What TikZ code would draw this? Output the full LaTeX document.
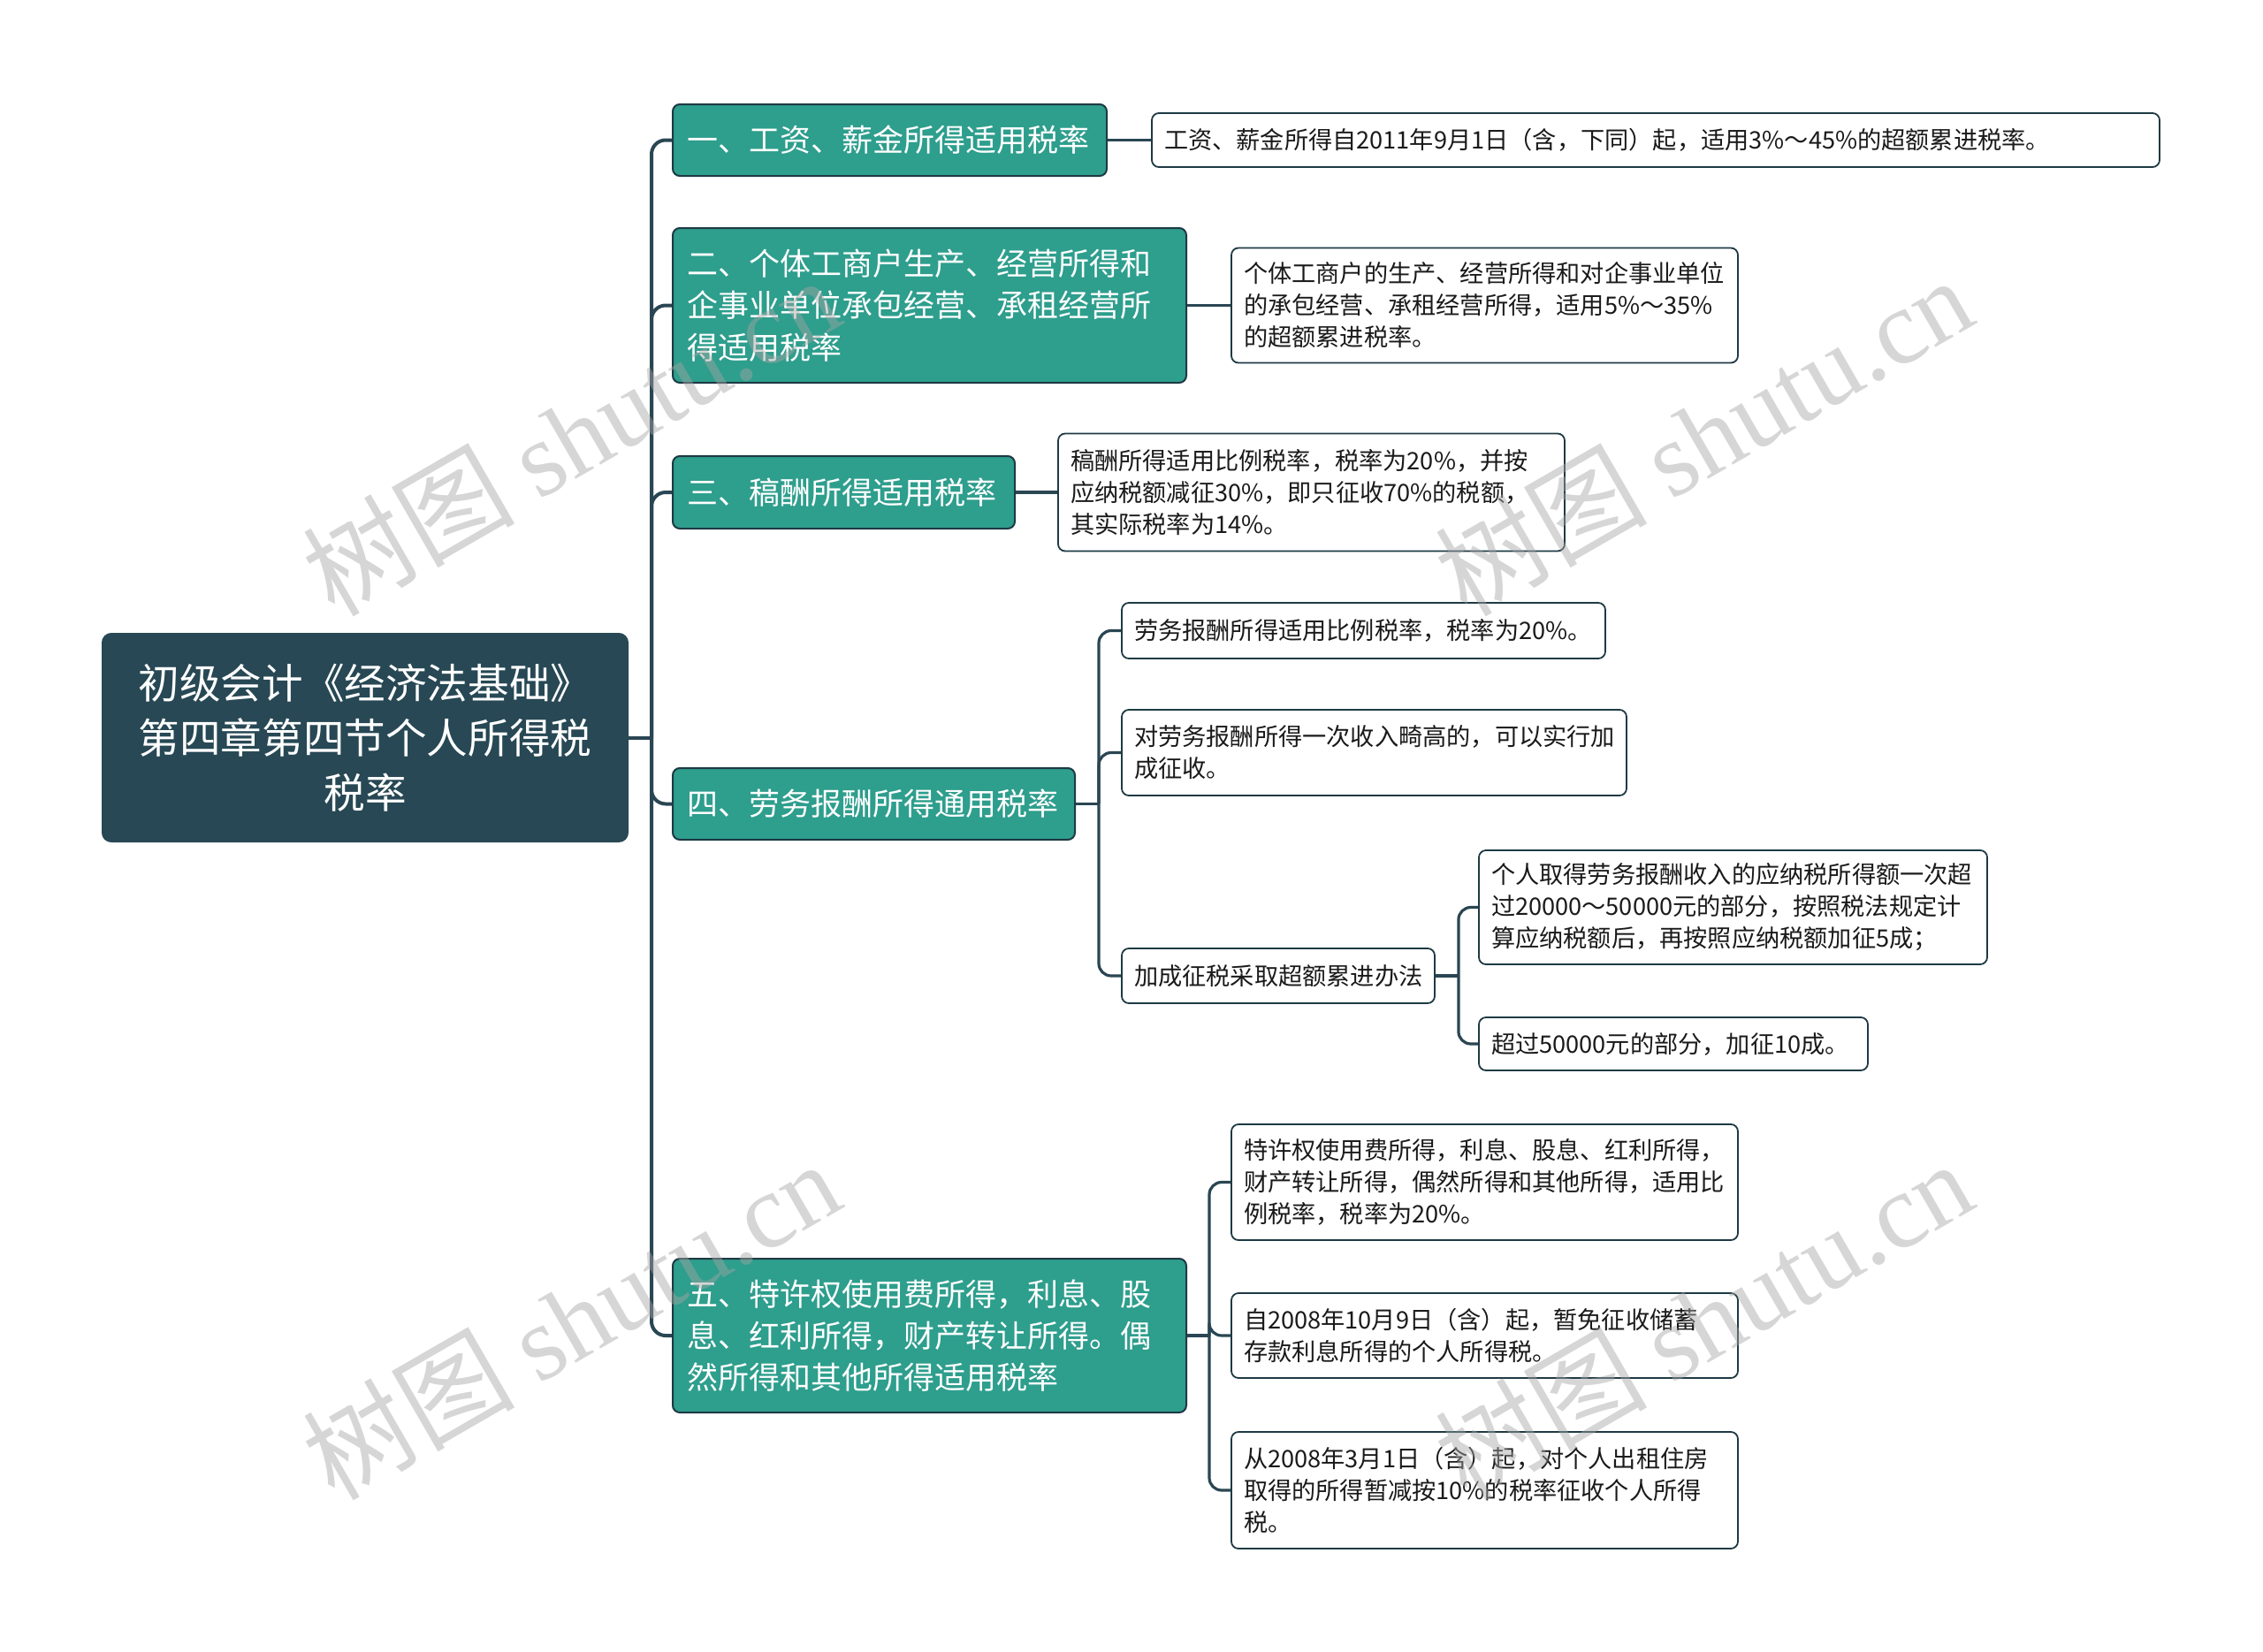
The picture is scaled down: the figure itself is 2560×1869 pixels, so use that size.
\documentclass[tikz,border=0pt]{standalone}
\usepackage{fontspec}
\setmainfont{Noto Sans CJK SC}
\newfontfamily\wmlatin{Liberation Serif}
\definecolor{rootc}{HTML}{274854}
\definecolor{tealc}{HTML}{2E9E8D}
\definecolor{bordc}{HTML}{1E3A44}
\definecolor{linec}{HTML}{2A4653}
\definecolor{txtc}{HTML}{1A1A1A}
\definecolor{wmc}{HTML}{A5A5A5}
\tikzset{
  x=0.5pt, y=-0.5pt,
  rootbox/.style={draw=rootc, fill=rootc, rounded corners=5pt, text=white, line width=1pt,
    font=\fontsize{23.3pt}{31pt}\selectfont, align=center, inner xsep=8.5pt, text width=280pt,
    minimum height=117.5pt},
  lvlone/.style={draw=bordc, fill=tealc, rounded corners=4pt, text=white, line width=1pt,
    font=\fontsize{17.5pt}{23.7pt}\selectfont, align=left, inner xsep=8pt},
  lvltwo/.style={draw=bordc, fill=white, rounded corners=4pt, text=txtc, line width=0.9pt,
    font=\fontsize{13.6pt}{18pt}\selectfont, align=left, inner xsep=7pt},
  connone/.style={draw=linec, line width=2pt, rounded corners=8pt},
  conntwo/.style={draw=linec, line width=1.6pt, rounded corners=7pt},
  wmark/.style={text=wmc, opacity=0.45, font=\fontsize{60pt}{60pt}\selectfont, inner sep=0pt}
}
\begin{document}
\begin{tikzpicture}
\fill[white] (0,0) rectangle (2560,1869);
\useasboundingbox (0,0) rectangle (2560,1869);

% root
\node[rootbox] (root) at (413,834.5) {初级会计《经济法基础》\\第四章第四节个人所得税\\税率};

% level 1
\node[lvlone, text width=229.5pt, minimum height=40.5pt] (n1) at (1006.5,158.5) {一、工资、薪金所得适用税率};
\node[lvlone, text width=274.5pt, minimum height=87.5pt] (n2) at (1051.5,345.5) {二、个体工商户生产、经营所得和\\企事业单位承包经营、承租经营所\\得适用税率};
\node[lvlone, text width=177.5pt, minimum height=41pt] (n3) at (954.5,557) {三、稿酬所得适用税率};
\node[lvlone, text width=211.5pt, minimum height=40.5pt] (n4) at (988.5,909.5) {四、劳务报酬所得通用税率};
\node[lvlone, text width=274.5pt, minimum height=87pt] (n5) at (1051.5,1511) {五、特许权使用费所得，利息、股\\息、红利所得，财产转让所得。偶\\然所得和其他所得适用税率};

% level 2
\node[lvltwo, text width=556pt, minimum height=30.5pt] (a1) at (1873,158.5) {工资、薪金所得自2011年9月1日（含，下同）起，适用3\%～45\%的超额累进税率。};
\node[lvltwo, text width=272.5pt, minimum height=65pt] (b1) at (1679.5,345.5) {个体工商户的生产、经营所得和对企事业单位\\的承包经营、承租经营所得，适用5\%～35\%\\的超额累进税率。};
\node[lvltwo, text width=272.5pt, minimum height=66.5pt] (c1) at (1483.5,557) {稿酬所得适用比例税率，税率为20\%，并按\\应纳税额减征30\%，即只征收70\%的税额，\\其实际税率为14\%。};
\node[lvltwo, text width=259.5pt, minimum height=31.5pt] (d1) at (1542.5,713.5) {劳务报酬所得适用比例税率，税率为20\%。};
\node[lvltwo, text width=271.5pt, minimum height=48.5pt] (d2) at (1554.5,851.5) {对劳务报酬所得一次收入畸高的，可以实行加\\成征收。};
\node[lvltwo, text width=163pt, minimum height=31pt] (d3) at (1446,1104) {加成征税采取超额累进办法};
\node[lvltwo, text width=273.5pt, minimum height=64.5pt] (e1) at (1960.5,1026.5) {个人取得劳务报酬收入的应纳税所得额一次超\\过20000～50000元的部分，按照税法规定计\\算应纳税额后，再按照应纳税额加征5成；};
\node[lvltwo, text width=206pt, minimum height=30pt] (e2) at (1893,1181) {超过50000元的部分，加征10成。};
\node[lvltwo, text width=272.5pt, minimum height=65.5pt] (f1) at (1679.5,1337.5) {特许权使用费所得，利息、股息、红利所得，\\财产转让所得，偶然所得和其他所得，适用比\\例税率，税率为20\%。};
\node[lvltwo, text width=272.5pt, minimum height=48pt] (f2) at (1679.5,1511) {自2008年10月9日（含）起，暂免征收储蓄\\存款利息所得的个人所得税。};
\node[lvltwo, text width=272.5pt, minimum height=66pt] (f3) at (1679.5,1686) {从2008年3月1日（含）起，对个人出租住房\\取得的所得暂减按10\%的税率征收个人所得\\税。};

% connectors level 1
\coordinate (t0) at ([xshift=13pt]root.east);
\draw[connone] (root.east) -- (t0);
\foreach \n in {n1,n2,n3,n4,n5} \draw[connone] (t0) |- (\n.west);

% connectors level 2
\draw[conntwo] (n1.east) -- (a1.west);
\draw[conntwo] (n2.east) -- (b1.west);
\draw[conntwo] (n3.east) -- (c1.west);
\coordinate (t4) at ([xshift=13pt]n4.east);
\draw[conntwo] (n4.east) -- (t4);
\foreach \n in {d1,d2,d3} \draw[conntwo] (t4) |- (\n.west);
\coordinate (t43) at ([xshift=13pt]d3.east);
\draw[conntwo] (d3.east) -- (t43);
\foreach \n in {e1,e2} \draw[conntwo] (t43) |- (\n.west);
\coordinate (t5) at ([xshift=12.5pt]n5.east);
\draw[conntwo] (n5.east) -- (t5);
\foreach \n in {f1,f2,f3} \draw[conntwo] (t5) |- (\n.west);

% watermarks
\node[wmark, anchor=base west, rotate=30] (w1) at (378,700) {树图 {\wmlatin shutu.cn}};
\node[wmark, anchor=base west, rotate=30] (w2) at (1659,700) {树图 {\wmlatin shutu.cn}};
\node[wmark, anchor=base west, rotate=30] (w3) at (378,1700) {树图 {\wmlatin shutu.cn}};
\node[wmark, anchor=base west, rotate=30] (w4) at (1659,1700) {树图 {\wmlatin shutu.cn}};
\end{tikzpicture}
\end{document}
